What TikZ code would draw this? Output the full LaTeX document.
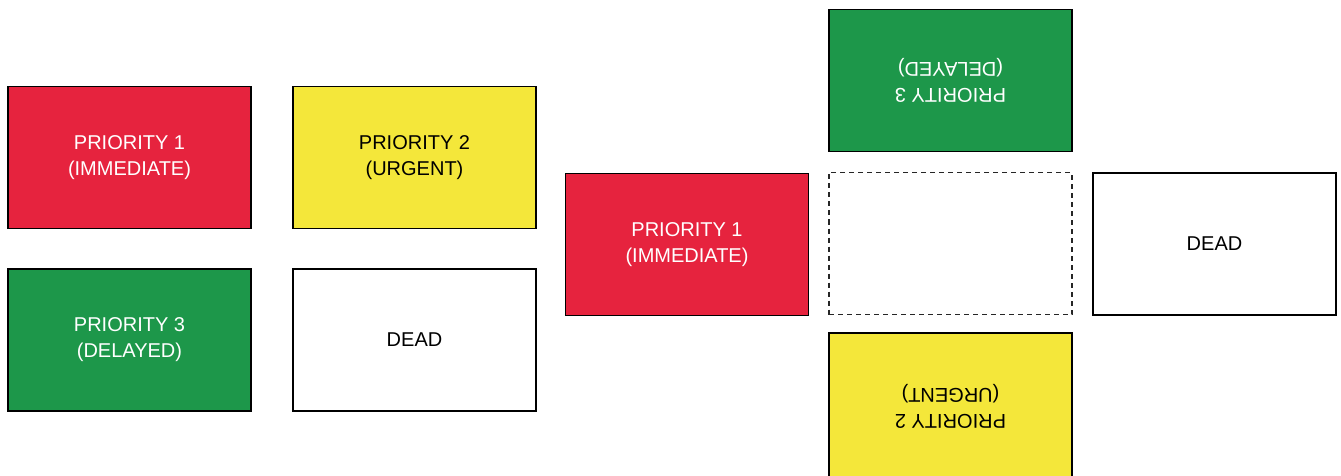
\documentclass[tikz,border=0pt]{standalone}
\usepackage{fontspec}
\setmainfont{Liberation Sans}
\usetikzlibrary{calc}

\definecolor{tagred}{HTML}{E6233E}
\definecolor{tagyellow}{HTML}{F4E73A}
\definecolor{taggreen}{HTML}{1D974A}

\begin{document}
\begin{tikzpicture}[
  x=1pt, y=-1pt,
  tag/.style={draw=black, line width=1.1pt, minimum width=243pt, minimum height=142pt,
    align=center, font=\fontsize{20}{26}\selectfont, inner sep=0pt},
  red tag/.style={tag, fill=tagred, text=white},
  yellow tag/.style={tag, fill=tagyellow, text=black},
  green tag/.style={tag, fill=taggreen, text=white},
  dead tag/.style={tag, fill=white, text=black}]

    \useasboundingbox (0,0) rectangle (1341,476);
    \clip (0,0) rectangle (1341,476);

    % the four tags side by side
    \node[red tag] at (129.5,157.5) (p1) {PRIORITY 1\\(IMMEDIATE)};
    \node[yellow tag] at (414.5,157.5) (p2) {PRIORITY 2\\(URGENT)};
    \node[green tag] at (129.5,340) (p3) {PRIORITY 3\\(DELAYED)};
    \node[dead tag] at (414.5,340) (p0) {DEAD};

    % the folded tag
    \node[red tag] at (687,244.5) (f1) {PRIORITY 1\\(IMMEDIATE)};
    \node[green tag, rotate=180] at (950.5,80.5) (f3) {PRIORITY 3\\(DELAYED)};
    \node[tag, draw=black!85, dash pattern=on 5pt off 4pt] at (950.5,243.5) (fc) {};
    \node[yellow tag, rotate=180, minimum height=146pt] at (950.5,406) (f2) {PRIORITY 2\\(URGENT)};
    \node[dead tag] at (1214.5,244) (f0) {DEAD};

\end{tikzpicture}
\end{document}
